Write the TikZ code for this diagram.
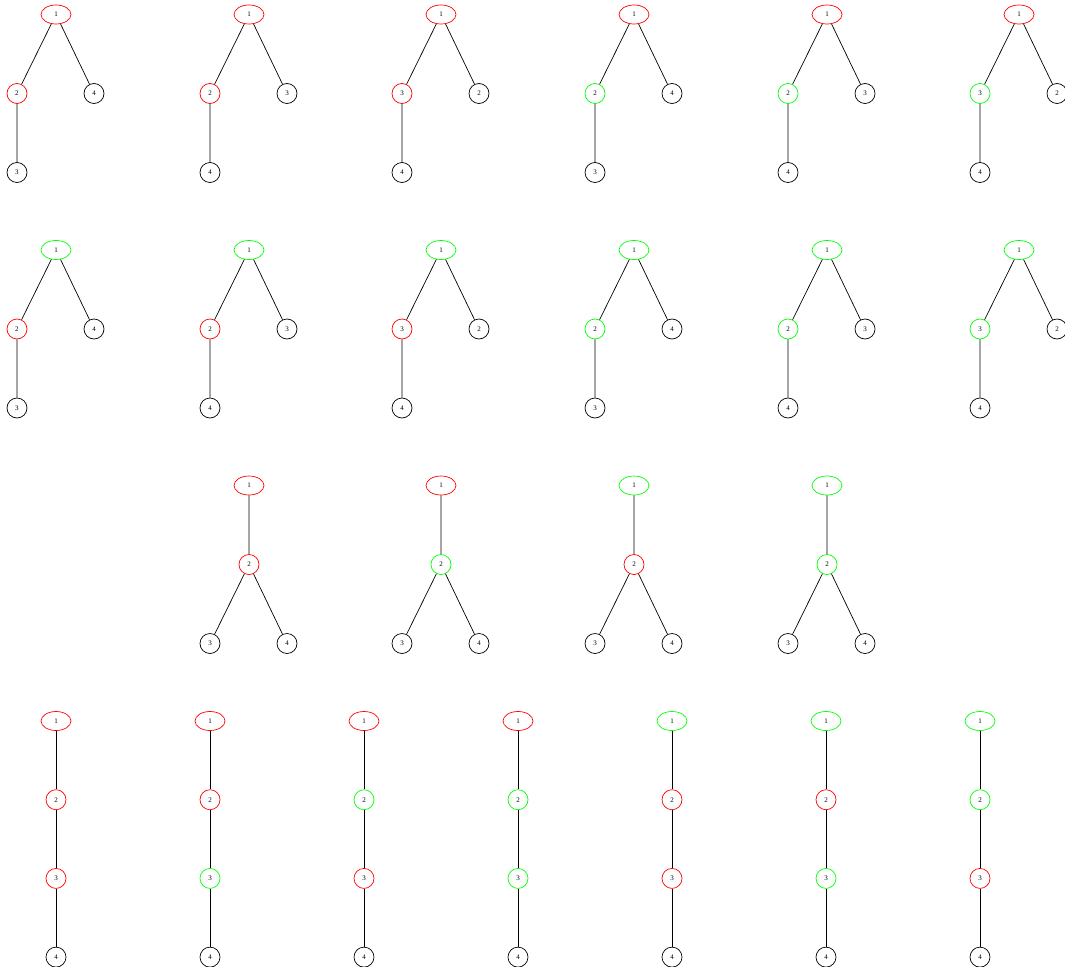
\documentclass[tikz,border=0pt]{standalone}
\usepackage{fontspec}
\setmainfont{Liberation Serif}
\usepackage{xcolor}
\usepackage{tikz}
\usetikzlibrary{positioning,shapes.geometric}

\begin{document}
\begin{tikzpicture}[
    x=1pt, y=-1pt, on grid,
    rootnode/.style={ellipse, draw, line width=0.7pt, minimum width=30pt, minimum height=19pt, inner sep=0pt, font=\fontsize{7}{8}\selectfont},
    vertex/.style={circle, draw, line width=0.7pt, minimum size=20pt, inner sep=0pt, font=\fontsize{7}{8}\selectfont},
    link/.style={line width=0.7pt}
]
    \useasboundingbox (0,0) rectangle (1065,966);

    % Row 1: red root
    \node[rootnode, draw=red] (a1v1) at (56,14.5) {1};
    \node[vertex, draw=red, below left=79pt and 39pt of a1v1] (a1v2) {2};
    \node[vertex, below right=79pt and 38pt of a1v1] (a1v4) {4};
    \node[vertex, below=79pt of a1v2] (a1v3) {3};
    \draw[link] (a1v1) -- (a1v2) (a1v1) -- (a1v4) (a1v2) -- (a1v3);

    \node[rootnode, draw=red] (a2v1) at (249,14.5) {1};
    \node[vertex, draw=red, below left=79pt and 39pt of a2v1] (a2v2) {2};
    \node[vertex, below right=79pt and 38pt of a2v1] (a2v3) {3};
    \node[vertex, below=79pt of a2v2] (a2v4) {4};
    \draw[link] (a2v1) -- (a2v2) (a2v1) -- (a2v3) (a2v2) -- (a2v4);

    \node[rootnode, draw=red] (a3v1) at (441,14.5) {1};
    \node[vertex, draw=red, below left=79pt and 39pt of a3v1] (a3v3) {3};
    \node[vertex, below right=79pt and 38pt of a3v1] (a3v2) {2};
    \node[vertex, below=79pt of a3v3] (a3v4) {4};
    \draw[link] (a3v1) -- (a3v3) (a3v1) -- (a3v2) (a3v3) -- (a3v4);

    \node[rootnode, draw=red] (a4v1) at (634,14.5) {1};
    \node[vertex, draw=green, below left=79pt and 39pt of a4v1] (a4v2) {2};
    \node[vertex, below right=79pt and 38pt of a4v1] (a4v4) {4};
    \node[vertex, below=79pt of a4v2] (a4v3) {3};
    \draw[link] (a4v1) -- (a4v2) (a4v1) -- (a4v4) (a4v2) -- (a4v3);

    \node[rootnode, draw=red] (a5v1) at (827,14.5) {1};
    \node[vertex, draw=green, below left=79pt and 39pt of a5v1] (a5v2) {2};
    \node[vertex, below right=79pt and 38pt of a5v1] (a5v3) {3};
    \node[vertex, below=79pt of a5v2] (a5v4) {4};
    \draw[link] (a5v1) -- (a5v2) (a5v1) -- (a5v3) (a5v2) -- (a5v4);

    \node[rootnode, draw=red] (a6v1) at (1019,14.5) {1};
    \node[vertex, draw=green, below left=79pt and 39pt of a6v1] (a6v3) {3};
    \node[vertex, below right=79pt and 38pt of a6v1] (a6v2) {2};
    \node[vertex, below=79pt of a6v3] (a6v4) {4};
    \draw[link] (a6v1) -- (a6v3) (a6v1) -- (a6v2) (a6v3) -- (a6v4);

    % Row 2: green root
    \node[rootnode, draw=green] (b1v1) at (56,250) {1};
    \node[vertex, draw=red, below left=79pt and 39pt of b1v1] (b1v2) {2};
    \node[vertex, below right=79pt and 38pt of b1v1] (b1v4) {4};
    \node[vertex, below=79pt of b1v2] (b1v3) {3};
    \draw[link] (b1v1) -- (b1v2) (b1v1) -- (b1v4) (b1v2) -- (b1v3);

    \node[rootnode, draw=green] (b2v1) at (249,250) {1};
    \node[vertex, draw=red, below left=79pt and 39pt of b2v1] (b2v2) {2};
    \node[vertex, below right=79pt and 38pt of b2v1] (b2v3) {3};
    \node[vertex, below=79pt of b2v2] (b2v4) {4};
    \draw[link] (b2v1) -- (b2v2) (b2v1) -- (b2v3) (b2v2) -- (b2v4);

    \node[rootnode, draw=green] (b3v1) at (441,250) {1};
    \node[vertex, draw=red, below left=79pt and 39pt of b3v1] (b3v3) {3};
    \node[vertex, below right=79pt and 38pt of b3v1] (b3v2) {2};
    \node[vertex, below=79pt of b3v3] (b3v4) {4};
    \draw[link] (b3v1) -- (b3v3) (b3v1) -- (b3v2) (b3v3) -- (b3v4);

    \node[rootnode, draw=green] (b4v1) at (634,250) {1};
    \node[vertex, draw=green, below left=79pt and 39pt of b4v1] (b4v2) {2};
    \node[vertex, below right=79pt and 38pt of b4v1] (b4v4) {4};
    \node[vertex, below=79pt of b4v2] (b4v3) {3};
    \draw[link] (b4v1) -- (b4v2) (b4v1) -- (b4v4) (b4v2) -- (b4v3);

    \node[rootnode, draw=green] (b5v1) at (827,250) {1};
    \node[vertex, draw=green, below left=79pt and 39pt of b5v1] (b5v2) {2};
    \node[vertex, below right=79pt and 38pt of b5v1] (b5v3) {3};
    \node[vertex, below=79pt of b5v2] (b5v4) {4};
    \draw[link] (b5v1) -- (b5v2) (b5v1) -- (b5v3) (b5v2) -- (b5v4);

    \node[rootnode, draw=green] (b6v1) at (1019,250) {1};
    \node[vertex, draw=green, below left=79pt and 39pt of b6v1] (b6v3) {3};
    \node[vertex, below right=79pt and 38pt of b6v1] (b6v2) {2};
    \node[vertex, below=79pt of b6v3] (b6v4) {4};
    \draw[link] (b6v1) -- (b6v3) (b6v1) -- (b6v2) (b6v3) -- (b6v4);

    % Row 3: fork at node 2
    \node[rootnode, draw=red] (c1v1) at (249,485.5) {1};
    \node[vertex, draw=red, below=79pt of c1v1] (c1v2) {2};
    \node[vertex, below left=79pt and 39pt of c1v2] (c1v3) {3};
    \node[vertex, below right=79pt and 38pt of c1v2] (c1v4) {4};
    \draw[link] (c1v1) -- (c1v2) (c1v2) -- (c1v3) (c1v2) -- (c1v4);

    \node[rootnode, draw=red] (c2v1) at (441,485.5) {1};
    \node[vertex, draw=green, below=79pt of c2v1] (c2v2) {2};
    \node[vertex, below left=79pt and 39pt of c2v2] (c2v3) {3};
    \node[vertex, below right=79pt and 38pt of c2v2] (c2v4) {4};
    \draw[link] (c2v1) -- (c2v2) (c2v2) -- (c2v3) (c2v2) -- (c2v4);

    \node[rootnode, draw=green] (c3v1) at (634,485.5) {1};
    \node[vertex, draw=red, below=79pt of c3v1] (c3v2) {2};
    \node[vertex, below left=79pt and 39pt of c3v2] (c3v3) {3};
    \node[vertex, below right=79pt and 38pt of c3v2] (c3v4) {4};
    \draw[link] (c3v1) -- (c3v2) (c3v2) -- (c3v3) (c3v2) -- (c3v4);

    \node[rootnode, draw=green] (c4v1) at (827,485.5) {1};
    \node[vertex, draw=green, below=79pt of c4v1] (c4v2) {2};
    \node[vertex, below left=79pt and 39pt of c4v2] (c4v3) {3};
    \node[vertex, below right=79pt and 38pt of c4v2] (c4v4) {4};
    \draw[link] (c4v1) -- (c4v2) (c4v2) -- (c4v3) (c4v2) -- (c4v4);

    % Row 4: paths
    \node[rootnode, draw=red] (d1v1) at (56,721) {1};
    \node[vertex, draw=red, below=78.7pt of d1v1] (d1v2) {2};
    \node[vertex, draw=red, below=78.7pt of d1v2] (d1v3) {3};
    \node[vertex, below=78.7pt of d1v3] (d1v4) {4};
    \draw[link] (d1v1) -- (d1v2) -- (d1v3) -- (d1v4);

    \node[rootnode, draw=red] (d2v1) at (210,721) {1};
    \node[vertex, draw=red, below=78.7pt of d2v1] (d2v2) {2};
    \node[vertex, draw=green, below=78.7pt of d2v2] (d2v3) {3};
    \node[vertex, below=78.7pt of d2v3] (d2v4) {4};
    \draw[link] (d2v1) -- (d2v2) -- (d2v3) -- (d2v4);

    \node[rootnode, draw=red] (d3v1) at (364,721) {1};
    \node[vertex, draw=green, below=78.7pt of d3v1] (d3v2) {2};
    \node[vertex, draw=red, below=78.7pt of d3v2] (d3v3) {3};
    \node[vertex, below=78.7pt of d3v3] (d3v4) {4};
    \draw[link] (d3v1) -- (d3v2) -- (d3v3) -- (d3v4);

    \node[rootnode, draw=red] (d4v1) at (518,721) {1};
    \node[vertex, draw=green, below=78.7pt of d4v1] (d4v2) {2};
    \node[vertex, draw=green, below=78.7pt of d4v2] (d4v3) {3};
    \node[vertex, below=78.7pt of d4v3] (d4v4) {4};
    \draw[link] (d4v1) -- (d4v2) -- (d4v3) -- (d4v4);

    \node[rootnode, draw=green] (d5v1) at (672,721) {1};
    \node[vertex, draw=red, below=78.7pt of d5v1] (d5v2) {2};
    \node[vertex, draw=red, below=78.7pt of d5v2] (d5v3) {3};
    \node[vertex, below=78.7pt of d5v3] (d5v4) {4};
    \draw[link] (d5v1) -- (d5v2) -- (d5v3) -- (d5v4);

    \node[rootnode, draw=green] (d6v1) at (826,721) {1};
    \node[vertex, draw=red, below=78.7pt of d6v1] (d6v2) {2};
    \node[vertex, draw=green, below=78.7pt of d6v2] (d6v3) {3};
    \node[vertex, below=78.7pt of d6v3] (d6v4) {4};
    \draw[link] (d6v1) -- (d6v2) -- (d6v3) -- (d6v4);

    \node[rootnode, draw=green] (d7v1) at (980,721) {1};
    \node[vertex, draw=green, below=78.7pt of d7v1] (d7v2) {2};
    \node[vertex, draw=red, below=78.7pt of d7v2] (d7v3) {3};
    \node[vertex, below=78.7pt of d7v3] (d7v4) {4};
    \draw[link] (d7v1) -- (d7v2) -- (d7v3) -- (d7v4);
\end{tikzpicture}
\end{document}
